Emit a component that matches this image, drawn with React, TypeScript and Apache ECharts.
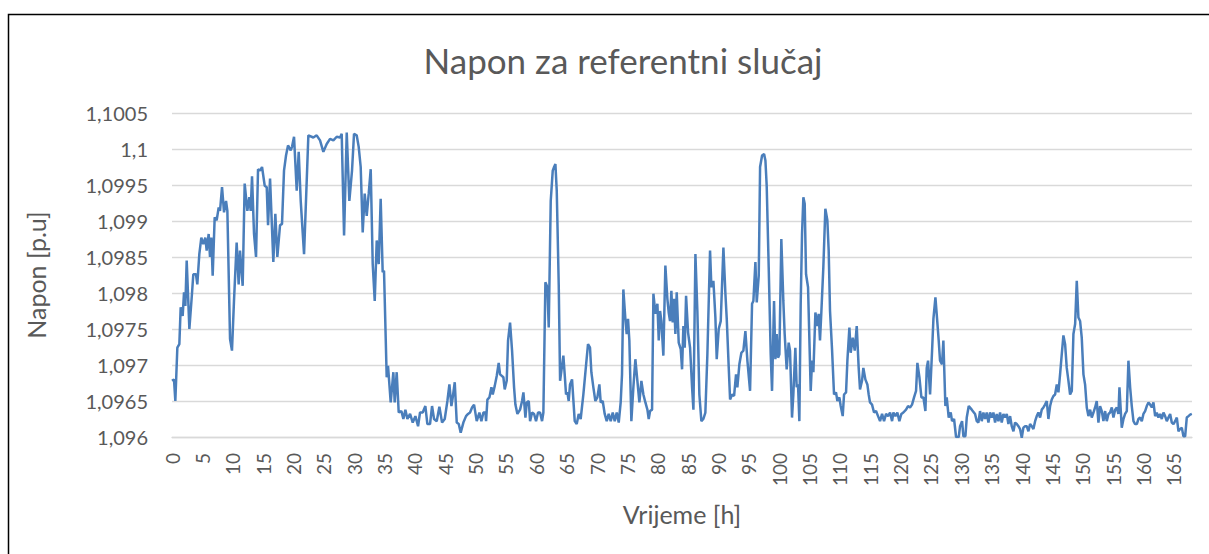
import React, { useEffect, useRef } from "react";
import * as echarts from "echarts";

const titleText = "Napon za referentni slučaj";
const xName = "Vrijeme [h]";
const yName = "Napon [p.u]";
const yMin = 1.096;
const yMax = 1.1005;
const yStep = 0.0005;
const xMin = 0;
const xMax = 168;
const xStep = 5;

// [hour, voltage p.u.]
const day1 = [[0,1.09678],[0.33,1.0968],[0.55,1.0965],[0.88,1.09724],[1.21,1.09729],[1.43,1.0978],[1.76,1.09768],[1.98,1.09801],[2.2,1.09782],[2.42,1.09845],[2.86,1.0975],[3.29,1.09799],[3.51,1.09826],[3.95,1.09826],[4.17,1.09812],[4.5,1.09854],[4.83,1.09877],[5.16,1.09868],[5.49,1.09877],[5.71,1.09859],[6.04,1.09882],[6.26,1.0985],[6.48,1.09877],[6.7,1.09824],[7.03,1.09905],[7.36,1.09901],[7.69,1.09919],[7.91,1.09914],[8.24,1.09947],[8.57,1.09912],[8.9,1.09928],[9.12,1.09914],[9.56,1.09736],[9.88,1.0972],[10.21,1.09789],[10.65,1.0987],[10.98,1.09812],[11.2,1.09859],[11.64,1.0981],[11.97,1.09952],[12.41,1.09914],[12.74,1.09933],[12.96,1.09914],[13.18,1.09962],[13.51,1.09882],[13.84,1.0985],[14.17,1.09972],[14.5,1.0997],[14.83,1.09975],[15.27,1.09949],[15.6,1.09947],[15.82,1.09894],[16.15,1.09959],[16.69,1.09843],[17.02,1.0991],[17.35,1.0985],[17.79,1.09894],[18.12,1.09896],[18.45,1.0997],[18.78,1.09991],[19.11,1.10005],[19.55,1.09998],[19.77,1.10003],[20.1,1.10017],[20.54,1.09942],[20.87,1.09996],[21.2,1.09928],[21.75,1.09854],[22.46,1.10019],[23.28,1.10016],[23.83,1.10019]];

const day2 = [[24.38,1.10012],[24.93,1.09996],[25.48,1.10007],[26.03,1.10014],[26.58,1.10012],[27.13,1.10017],[27.68,1.10016],[27.95,1.10021],[28.34,1.0988],[28.78,1.10023],[29.21,1.09928],[29.65,1.0997],[29.98,1.10021],[30.42,1.10019],[30.75,1.10003],[31.08,1.09975],[31.41,1.09884],[31.74,1.09938],[32.07,1.09907],[32.4,1.09938],[32.73,1.09972],[33.06,1.0984],[33.39,1.09789],[33.72,1.09873],[34.05,1.0984],[34.37,1.09931],[34.7,1.09829],[34.92,1.09831],[35.36,1.09683],[35.58,1.09699],[36.02,1.09648],[36.46,1.0969],[36.68,1.09648],[37.01,1.0969],[37.34,1.09634],[37.78,1.09636],[38.11,1.09625],[38.44,1.09638],[38.77,1.09625],[39.21,1.09632],[39.65,1.0962],[40.09,1.09629],[40.53,1.09615],[40.85,1.09634],[41.29,1.09634],[41.73,1.09643],[42.06,1.09618],[42.5,1.09618],[42.83,1.09643],[43.16,1.09625],[43.6,1.09622],[44.04,1.09642],[44.48,1.0962],[44.92,1.09625],[45.36,1.0965],[45.69,1.09673],[46.02,1.09643],[46.24,1.09655],[46.57,1.09676],[46.9,1.0962],[47.23,1.09618],[47.55,1.09606]];

const day3 = [[47.99,1.0962],[48.43,1.09629],[48.76,1.09632],[49.09,1.09634],[49.42,1.09641],[49.75,1.09645],[50.19,1.09622],[50.63,1.09634],[50.96,1.09622],[51.29,1.09634],[51.62,1.09634],[51.73,1.09622],[51.95,1.09652],[52.28,1.09655],[52.61,1.09669],[52.83,1.09659],[53.16,1.09671],[53.49,1.09685],[53.81,1.09703],[54.03,1.09687],[54.58,1.09683],[54.8,1.09666],[55.13,1.09678],[55.35,1.09734],[55.68,1.09759],[56.01,1.0972],[56.34,1.09669],[56.56,1.09645],[56.89,1.09632],[57.33,1.09638],[57.66,1.0965],[57.88,1.09662],[58.21,1.09627],[58.43,1.09648],[58.76,1.0965],[58.98,1.09622],[59.31,1.09634],[59.64,1.09632],[59.96,1.09622],[60.29,1.09634],[60.62,1.09634],[60.95,1.09622],[61.17,1.09634],[61.5,1.09815],[61.83,1.09808],[62.05,1.09752],[62.38,1.09928],[62.71,1.0997],[62.93,1.09975],[63.15,1.09979],[63.37,1.09942],[63.7,1.0981],[63.92,1.09678],[64.46,1.09713],[64.68,1.09687],[64.9,1.09659],[65.12,1.09662],[65.34,1.0965],[65.56,1.09673],[65.89,1.0968],[66.33,1.09622],[66.66,1.09618],[66.99,1.09632],[67.31,1.09625],[67.75,1.09659],[68.19,1.09699],[68.52,1.09729],[68.85,1.09724],[69.07,1.0969],[69.4,1.09669],[69.73,1.0965],[70.06,1.09655],[70.39,1.09673],[70.61,1.09648],[70.94,1.0965],[71.27,1.09632],[71.6,1.09622],[71.93,1.09632]];

const day4 = [[72.26,1.09622],[72.59,1.09634],[72.92,1.09622],[73.25,1.09634],[73.58,1.0962],[73.9,1.09648],[74.12,1.09687],[74.34,1.09805],[74.67,1.09764],[74.89,1.09743],[75.11,1.09764],[75.33,1.09734],[75.66,1.09622],[75.99,1.09669],[76.32,1.09708],[76.65,1.09678],[76.98,1.09648],[77.31,1.09678],[77.64,1.09659],[77.97,1.09648],[78.3,1.09638],[78.52,1.09625],[78.74,1.09636],[79.07,1.09638],[79.29,1.09799],[79.62,1.09771],[79.95,1.09785],[80.17,1.09734],[80.39,1.09775],[80.6,1.09761],[80.93,1.09713],[81.26,1.09838],[81.59,1.09792],[81.81,1.09773],[82.03,1.09761],[82.25,1.09803],[82.47,1.09759],[82.69,1.09792],[82.91,1.09743],[83.13,1.09801],[83.46,1.09731],[83.79,1.09722],[84.01,1.09694],[84.23,1.09754],[84.45,1.09724],[84.67,1.09796],[85,1.09745],[85.33,1.09724],[85.66,1.09669],[85.88,1.09638],[86.21,1.09854],[86.53,1.09775],[86.86,1.09659],[87.19,1.09622],[87.52,1.09625],[87.85,1.09634],[88.18,1.09715],[88.62,1.09859],[88.84,1.09808],[89.17,1.09817],[89.5,1.09766],[89.72,1.09708],[90.05,1.0975],[90.38,1.09761],[90.82,1.09863],[91.15,1.09799],[91.37,1.09764],[91.7,1.09696],[91.92,1.09652],[92.25,1.09659],[92.58,1.09657],[92.9,1.09687],[93.12,1.09669],[93.45,1.09701],[93.78,1.09717],[94.11,1.0972],[94.44,1.09747],[94.77,1.09706],[95.21,1.09664],[95.54,1.09785],[95.76,1.09789],[96.09,1.09843],[96.31,1.09787],[96.64,1.09824]];

const day5 = [[96.86,1.09975],[97.19,1.09991],[97.52,1.09993],[97.74,1.09984],[97.95,1.09949],[98.28,1.09836],[98.61,1.09715],[98.83,1.09664],[99.16,1.09789],[99.38,1.09708],[99.6,1.09743],[99.82,1.0971],[100.04,1.09715],[100.36,1.09875],[100.69,1.09789],[100.91,1.09743],[101.24,1.09694],[101.57,1.09731],[101.79,1.0972],[102.12,1.09627],[102.34,1.09659],[102.67,1.09724],[102.89,1.09669],[103.11,1.09673],[103.33,1.09622],[103.55,1.09785],[103.77,1.09882],[103.99,1.09933],[104.21,1.09924],[104.43,1.09826],[104.76,1.09808],[105.2,1.09664],[105.42,1.09706],[105.64,1.0969],[105.97,1.09773],[106.3,1.09754],[106.51,1.09771],[106.73,1.09734],[106.95,1.09773],[107.28,1.09836],[107.61,1.09917],[107.94,1.09901],[108.16,1.09859],[108.38,1.09775],[108.71,1.09722],[109.04,1.09659],[109.37,1.09662],[109.59,1.0965],[109.92,1.09655],[110.14,1.09643],[110.47,1.09629],[110.69,1.09659],[111.02,1.09662],[111.24,1.09706],[111.57,1.09752],[111.79,1.09717],[112.12,1.09738],[112.45,1.0972],[112.78,1.09754],[113.1,1.09696],[113.32,1.09666],[113.65,1.09678],[113.87,1.09696],[114.2,1.0968],[114.53,1.09673],[114.75,1.09659],[114.97,1.09648],[115.3,1.09645],[115.63,1.09634],[115.96,1.09636],[116.29,1.09629],[116.62,1.09622],[116.95,1.09632],[117.28,1.09622],[117.61,1.09632],[117.94,1.09629],[118.27,1.09634],[118.6,1.09622],[118.82,1.09634],[119.15,1.09629],[119.47,1.09634],[119.8,1.09622]];

const day6 = [[120.13,1.09632],[120.46,1.09634],[120.9,1.09638],[121.23,1.09643],[121.56,1.09641],[121.89,1.09645],[122.22,1.09655],[122.55,1.09664],[122.77,1.09703],[123.1,1.09683],[123.43,1.09655],[123.76,1.09655],[124.09,1.09636],[124.31,1.09696],[124.53,1.09706],[124.86,1.09659],[125.19,1.0972],[125.41,1.09764],[125.74,1.09794],[125.95,1.09771],[126.28,1.09734],[126.5,1.09706],[126.83,1.09701],[127.05,1.09734],[127.38,1.09643],[127.6,1.09655],[127.93,1.09627],[128.26,1.09634],[128.48,1.09622],[128.81,1.09625],[129.14,1.096],[129.58,1.096],[129.8,1.09615],[130.13,1.09622],[130.35,1.09601],[130.68,1.09601],[130.9,1.09627],[131.23,1.09643],[131.72,1.09638],[132.27,1.09632],[132.55,1.09622],[132.82,1.0962],[133.09,1.09636],[133.37,1.09622],[133.64,1.09634],[133.92,1.09625],[134.19,1.09634],[134.47,1.0962],[134.74,1.09634],[135.02,1.09627],[135.29,1.09634],[135.57,1.0962],[135.84,1.09632],[136.12,1.09622],[136.39,1.09634],[136.66,1.0962],[136.94,1.09632],[137.21,1.09627],[137.49,1.09632],[137.76,1.09618],[138.04,1.09629],[138.31,1.09615],[138.59,1.09608],[138.86,1.0962],[139.14,1.09618],[139.41,1.09615],[139.68,1.09611],[139.96,1.09599],[140.23,1.09613],[140.51,1.09615],[140.78,1.09615],[141.06,1.09608],[141.33,1.09618],[141.61,1.09615],[141.88,1.09611],[142.16,1.09622],[142.43,1.09629],[142.7,1.09634],[142.98,1.09627],[143.25,1.09638],[143.53,1.09641],[143.8,1.09645]];

const day7 = [[144.08,1.0965],[144.35,1.09625],[144.63,1.09643],[144.9,1.09652],[145.18,1.09657],[145.45,1.09659],[145.73,1.09673],[146,1.09662],[146.27,1.09687],[146.55,1.09715],[146.82,1.09741],[147.1,1.09729],[147.37,1.09696],[147.65,1.09678],[147.92,1.09659],[148.2,1.09664],[148.47,1.09743],[148.75,1.09757],[149.02,1.09817],[149.29,1.09766],[149.57,1.09761],[149.84,1.09738],[150.12,1.09687],[150.39,1.09673],[150.67,1.09641],[150.94,1.09629],[151.22,1.09638],[151.49,1.09627],[151.77,1.09634],[152.04,1.09641],[152.31,1.0965],[152.59,1.0962],[152.86,1.09643],[153.14,1.09636],[153.41,1.09622],[153.69,1.09636],[153.96,1.09622],[154.24,1.09632],[154.51,1.09634],[154.79,1.09641],[155.06,1.09627],[155.34,1.09638],[155.61,1.09641],[155.88,1.09632],[156.05,1.09669],[156.43,1.09613],[156.71,1.09625],[156.98,1.09632],[157.26,1.09636],[157.53,1.09706],[157.81,1.09669],[158.08,1.09643],[158.36,1.09622],[158.63,1.09618],[158.91,1.09618],[159.18,1.09625],[159.45,1.09627],[159.73,1.09622],[160,1.09632],[160.28,1.09636],[160.55,1.09643],[160.83,1.09648],[161.1,1.09645],[161.38,1.09641],[161.65,1.09648],[161.93,1.09629],[162.2,1.09634],[162.47,1.09627],[162.75,1.09632],[163.02,1.09625],[163.3,1.09634],[163.57,1.09629],[163.85,1.09622],[164.12,1.09627],[164.4,1.09632],[164.67,1.0962],[164.95,1.09618],[165.22,1.09622],[165.5,1.09627],[165.77,1.09608],[166.04,1.09611],[166.32,1.09613],[166.59,1.09601],[166.87,1.09601],[167.14,1.09627],[167.42,1.09629],[167.69,1.09631],[167.97,1.09632]];

const FONT = "Lato, 'Open Sans', sans-serif";
const TXT = "#595959";

export default function App() {
  const ref = useRef<HTMLDivElement>(null);
  useEffect(() => {
    if (!ref.current) return;
    const chart = echarts.init(ref.current, undefined, { renderer: "svg" });
    const data = [...day1, ...day2, ...day3, ...day4, ...day5, ...day6, ...day7];
    chart.setOption({
      animation: false,
      backgroundColor: "#ffffff",
      textStyle: { fontFamily: FONT },
      grid: { left: 172, right: 17, top: 113, bottom: 117, containLabel: false },
      graphic: [
        {
          type: "rect",
          shape: { x: 8.5, y: 14.5, width: 1300, height: 700 },
          style: { fill: "none", stroke: "#000000", lineWidth: 1.5 },
          silent: true,
        },
        {
          type: "text",
          x: 623,
          y: 60,
          style: {
            text: titleText,
            fontSize: 35,
            fontFamily: FONT,
            fill: TXT,
            textAlign: "center",
            textVerticalAlign: "middle",
          },
        },
      ],
      xAxis: {
        type: "value",
        min: xMin,
        max: xMax,
        interval: xStep,
        name: xName,
        nameLocation: "middle",
        nameGap: 64,
        nameTextStyle: { fontSize: 25, color: TXT, fontFamily: FONT },
        axisLine: { show: true, lineStyle: { color: "#d9d9d9", width: 1.3 } },
        axisTick: { show: false },
        splitLine: { show: false },
        axisLabel: {
          rotate: 90,
          margin: 16,
          fontSize: 19,
          color: TXT,
          fontFamily: FONT,
          showMaxLabel: false,
          formatter: (v: number) => (Math.abs(v % xStep) < 1e-9 ? String(v) : ""),
        },
      },
      yAxis: {
        type: "value",
        min: yMin,
        max: yMax,
        interval: yStep,
        name: yName,
        nameLocation: "middle",
        nameGap: 124,
        nameRotate: 90,
        nameTextStyle: { fontSize: 25, color: TXT, fontFamily: FONT },
        axisLine: { show: false },
        axisTick: { show: false },
        splitLine: { show: true, lineStyle: { color: "#d9d9d9", width: 1.3 } },
        axisLabel: {
          margin: 24,
          fontSize: 20,
          color: TXT,
          fontFamily: FONT,
          formatter: (v: number) => String(Number(v.toFixed(4))).replace(".", ","),
        },
      },
      series: [
        {
          type: "line",
          data,
          showSymbol: false,
          smooth: false,
          lineStyle: { color: "#4a7ebb", width: 2.5 },
          itemStyle: { color: "#4a7ebb" },
        },
      ],
    });
    return () => chart.dispose();
  }, []);
  return (
    <div
      ref={ref}
      style={{ position: "fixed", left: 0, top: 0, width: 1209, height: 554 }}
    />
  );
}
